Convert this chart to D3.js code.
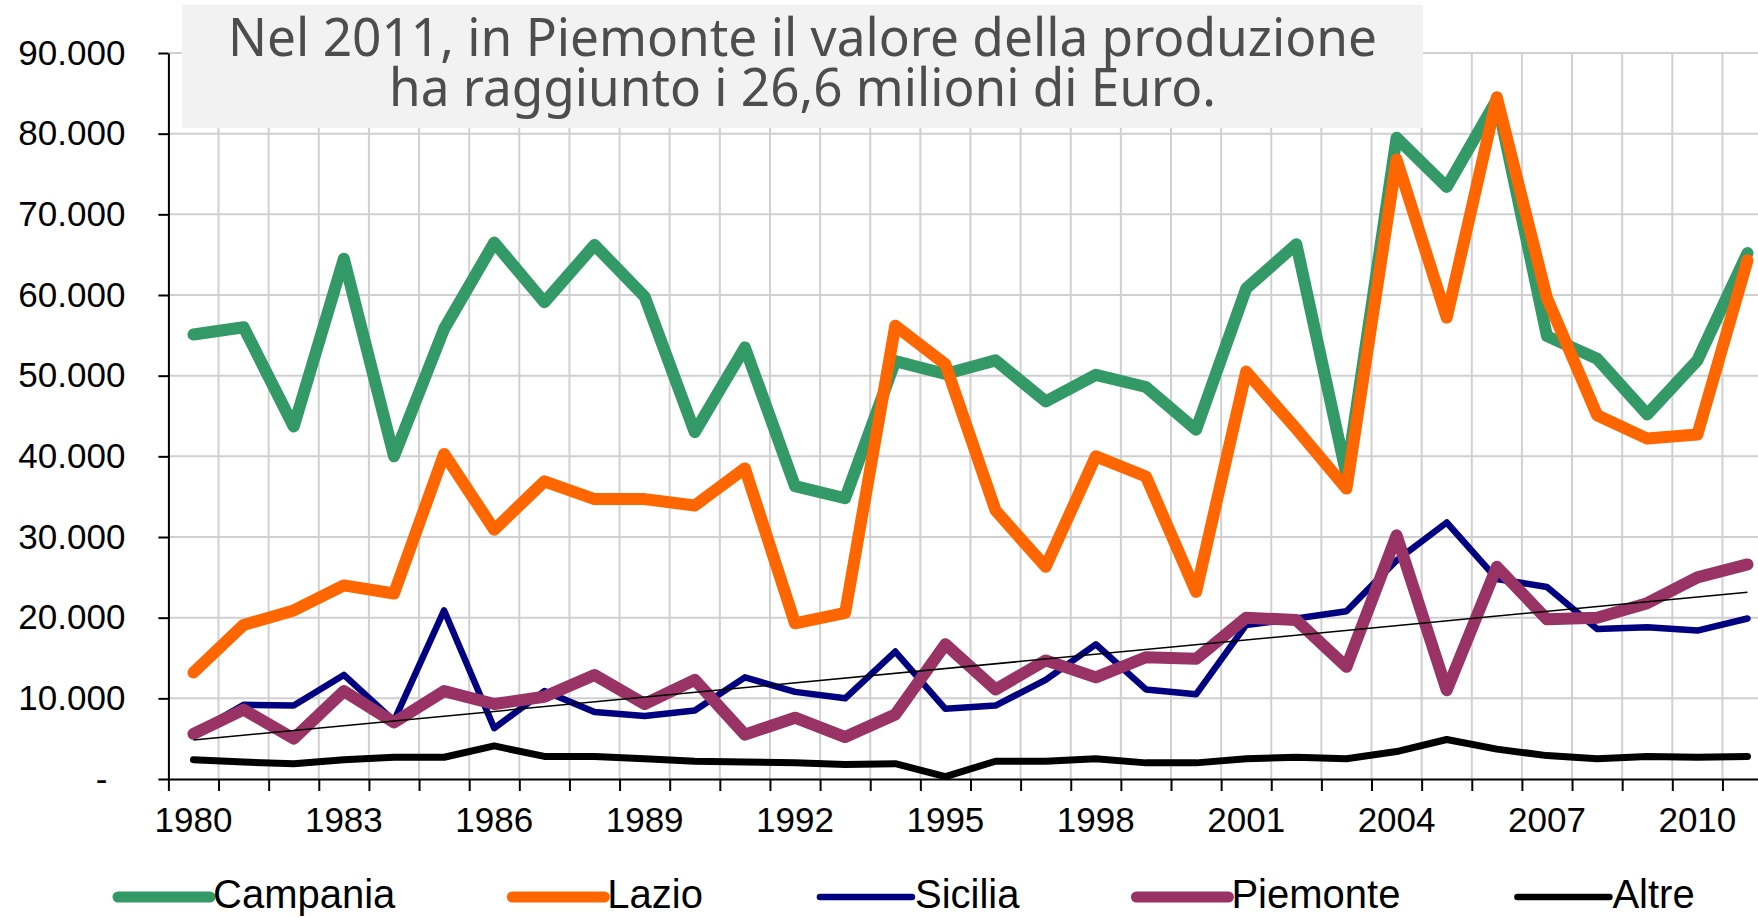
<!DOCTYPE html>
<html>
<head>
<meta charset="utf-8">
<script src="https://cdn.jsdelivr.net/npm/d3@7"></script>
<style>
  body { margin: 0; background: #fff; }
  svg { display: block; }
</style>
</head>
<body>
<div id="chart-area"></div>
<script>
// values (euro thousands)
const years = [1980, 1981, 1982, 1983, 1984, 1985, 1986, 1987, 1988, 1989, 1990, 1991, 1992, 1993, 1994, 1995,
  1996, 1997, 1998, 1999, 2000, 2001, 2002, 2003, 2004, 2005, 2006, 2007, 2008, 2009, 2010, 2011];
const campania = [55100, 56000, 43700, 64500, 40000, 55800, 66500, 59100, 66200, 59800, 43000, 53500, 36300, 34800, 51800, 50200,
  51900, 46800, 50100, 48600, 43300, 60800, 66300, 37700, 79500, 73400, 84200, 54900, 52100, 45200, 51900, 65200];
const lazio = [13200, 19100, 20900, 24000, 23000, 40300, 30900, 36900, 34700, 34700, 33900, 38500, 19300, 20600, 56200, 51400,
  33300, 26300, 40000, 37500, 23200, 50500, 43400, 36000, 76800, 57200, 84500, 59600, 45100, 42200, 42700, 64300];
const sicilia = [5600, 9200, 9100, 12900, 7200, 20900, 6300, 10900, 8300, 7800, 8500, 12600, 10800, 10000, 15800, 8700,
  9100, 12300, 16700, 11100, 10500, 19100, 19900, 20800, 27100, 31800, 24800, 23800, 18600, 18800, 18400, 19900];
const piemonte = [5600, 8600, 5000, 10900, 7000, 10900, 9300, 10200, 12900, 9300, 12300, 5500, 7600, 5200, 8000, 16700,
  11100, 14700, 12600, 15100, 14900, 20000, 19700, 13900, 30200, 11000, 26300, 19800, 20000, 21800, 25000, 26600];
const altre = [2400, 2100, 1900, 2400, 2700, 2700, 4100, 2800, 2800, 2500, 2200, 2100, 2000, 1800, 1900, 300,
  2200, 2200, 2500, 2000, 2000, 2500, 2700, 2500, 3400, 4900, 3700, 2900, 2500, 2800, 2700, 2800];

const seriesNames = ['Campania', 'Lazio', 'Sicilia', 'Piemonte', 'Altre'];
const xLabels = [1980, 1983, 1986, 1989, 1992, 1995, 1998, 2001, 2004, 2007, 2010];
const yTicks = [0, 10000, 20000, 30000, 40000, 50000, 60000, 70000, 80000, 90000];
const titleLines = ['Nel 2011, in Piemonte il valore della produzione', 'ha raggiunto i 26,6 milioni di Euro.'];

let width = 1758;
let height = 918;
let left = 168.4;
let band = 50.13;

let svg = d3
  .select('#chart-area')
  .append('svg')
  .attr('id', 'chart')
  .attr('width', width)
  .attr('height', height)
  .style('background', '#fff');

let x = d3.scaleBand().domain(years).range([left, left + band * years.length]);
let y = d3.scaleLinear().domain([0, 90000]).range([779, 53]);
let xc = (i) => x(years[i]) + x.bandwidth() / 2;

let colors = ['#339966', '#ff6600', '#000080', '#993366', '#000000'];
let widths = [12, 12, 6.5, 12, 7];
let series = [campania, lazio, sicilia, piemonte, altre].map((values, i) => ({
  name: seriesNames[i],
  values: values,
  color: colors[i],
  w: widths[i],
}));

//grid
let grid = svg.append('g').attr('stroke', '#d0d0d0').attr('stroke-width', 2);
grid
  .selectAll('.hgrid')
  .data(yTicks.slice(1))
  .enter()
  .append('line')
  .attr('x1', left)
  .attr('x2', x.range()[1])
  .attr('y1', (d) => y(d))
  .attr('y2', (d) => y(d));
grid
  .selectAll('.vgrid')
  .data(years.slice(1))
  .enter()
  .append('line')
  .attr('x1', (d) => x(d))
  .attr('x2', (d) => x(d))
  .attr('y1', y(90000))
  .attr('y2', y(0));

//title box sits on top of the grid
svg
  .append('rect')
  .attr('x', 182)
  .attr('y', 5)
  .attr('width', 1241)
  .attr('height', 123)
  .attr('fill', '#f2f2f2');

//one text, two lines (tight leading as in the original)
svg
  .append('text')
  .attr('text-anchor', 'middle')
  .style('font-family', '"Noto Sans", "DejaVu Sans", sans-serif')
  .style('font-size', '52px')
  .style('fill', '#4d4d4d')
  .selectAll('tspan')
  .data(titleLines)
  .enter()
  .append('tspan')
  .attr('x', 802.5)
  .attr('y', (d, i) => 56 + i * 50)
  .attr('textLength', (d, i) => (i == 0 ? 1149 : 827))
  .attr('lengthAdjust', 'spacingAndGlyphs')
  .text((d) => d);

//axes
let it = d3.formatLocale({ decimal: ',', thousands: '.', grouping: [3], currency: ['€', ''] });
let fmt = it.format(',d');

let yAxis = svg
  .append('g')
  .attr('transform', `translate(${left},0)`)
  .call(d3.axisLeft(y).tickValues(yTicks).tickSizeInner(10).tickSizeOuter(0).tickPadding(33).tickFormat((d) => (d == 0 ? '-' : fmt(d))));
yAxis.select('.domain').attr('stroke', '#000').attr('stroke-width', 2);
yAxis.selectAll('.tick line').attr('stroke', '#000').attr('stroke-width', 2);
yAxis
  .selectAll('.tick text')
  .style('font-family', '"Liberation Sans", Arial, sans-serif')
  .style('font-size', '35px')
  .attr('fill', '#000')
  .attr('dx', (d) => (d == 0 ? -18 : 0));

let xAxis = svg
  .append('g')
  .attr('transform', `translate(0,${y(0)})`)
  .call(
    d3
      .axisBottom(d3.scaleLinear().domain([0, years.length]).range(x.range()))
      .tickValues(d3.range(0, years.length + 1))
      .tickSizeInner(12)
      .tickSizeOuter(0)
      .tickFormat(''),
  );
xAxis.select('.domain').attr('stroke', '#000').attr('stroke-width', 2);
xAxis.selectAll('.tick line').attr('stroke', '#000').attr('stroke-width', 2);

let xText = svg
  .append('g')
  .attr('transform', `translate(0,${y(0)})`)
  .call(d3.axisBottom(x).tickValues(xLabels).tickSize(0).tickPadding(28));
xText.select('.domain').remove();
xText
  .selectAll('.tick text')
  .style('font-family', '"Liberation Sans", Arial, sans-serif')
  .style('font-size', '35px')
  .attr('fill', '#000');

//series lines
let line = d3
  .line()
  .x((d, i) => xc(i))
  .y((d) => y(d));

svg
  .selectAll('.series')
  .data(series)
  .enter()
  .append('path')
  .attr('class', 'series')
  .attr('d', (d) => line(d.values))
  .attr('fill', 'none')
  .attr('stroke', (d) => d.color)
  .attr('stroke-width', (d) => d.w)
  .attr('stroke-linejoin', 'round')
  .attr('stroke-linecap', 'round');

//linear trend of Piemonte
let n = piemonte.length;
let mx = d3.mean(piemonte, (d, i) => i);
let my = d3.mean(piemonte);
let slope = d3.sum(piemonte, (d, i) => (i - mx) * (d - my)) / d3.sum(piemonte, (d, i) => (i - mx) * (i - mx));
let icept = my - slope * mx;
svg
  .append('line')
  .attr('x1', xc(0))
  .attr('x2', xc(n - 1))
  .attr('y1', y(icept))
  .attr('y2', y(icept + slope * (n - 1)))
  .attr('stroke', '#000')
  .attr('stroke-width', 1.5);

//legend
let legend = svg.append('g');
let lx = 118;
series.forEach((s) => {
  let g = legend.append('g').attr('transform', `translate(${lx},0)`);
  g.append('line')
    .attr('x1', 0)
    .attr('x2', 92)
    .attr('y1', 897)
    .attr('y2', 897)
    .attr('stroke', s.color)
    .attr('stroke-width', s.w == 12 ? 11 : 6.5)
    .attr('stroke-linecap', 'round');
  let t = g
    .append('text')
    .attr('x', 95)
    .attr('y', 908)
    .style('font-family', '"Liberation Sans", Arial, sans-serif')
    .style('font-size', '40px')
    .attr('fill', '#000')
    .text(s.name);
  lx += 95 + t.node().getComputedTextLength() + 117;
});
</script>
</body>
</html>
